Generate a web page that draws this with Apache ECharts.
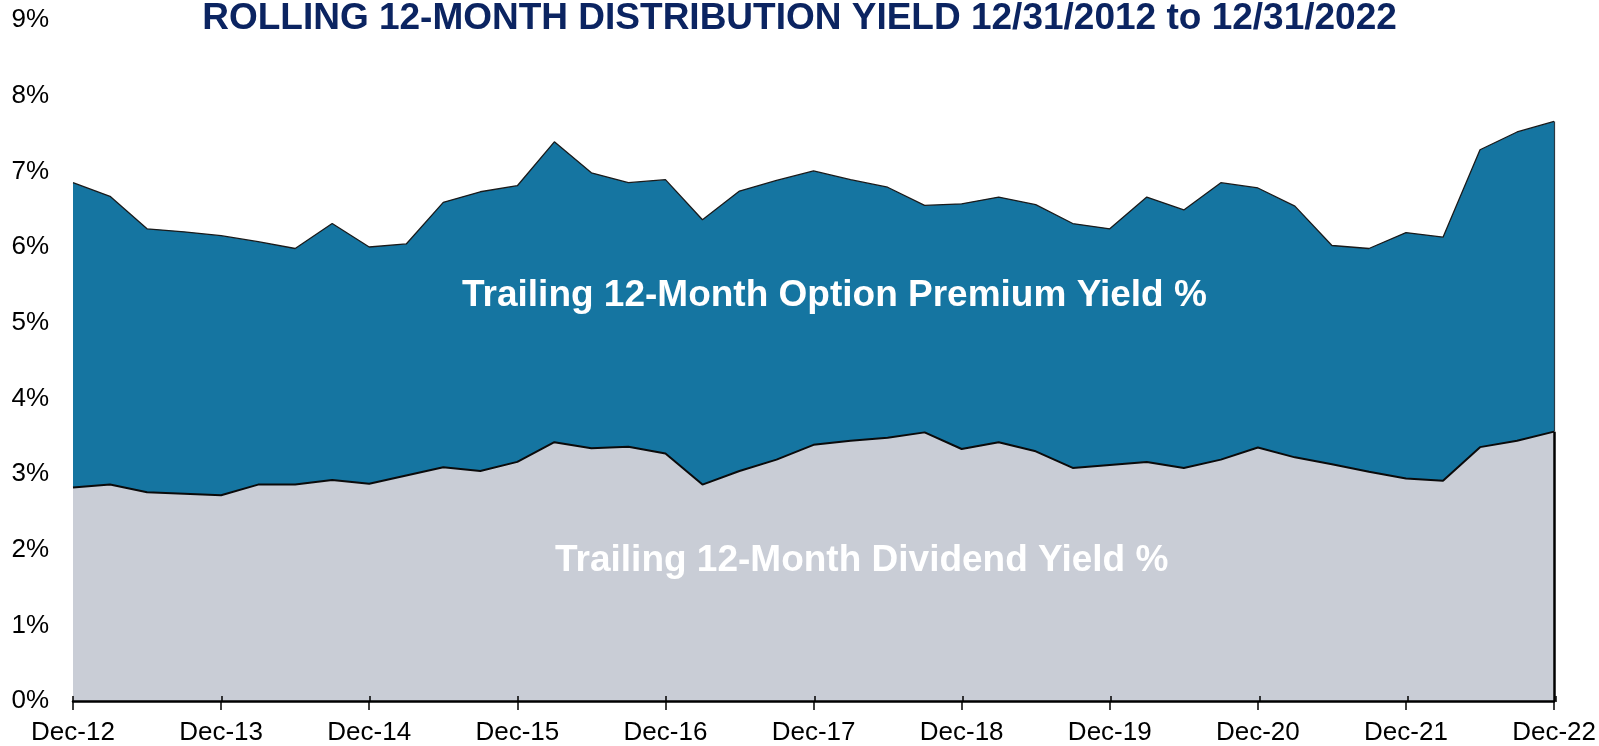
<!DOCTYPE html>
<html>
<head>
<meta charset="utf-8">
<title>Rolling 12-Month Distribution Yield</title>
<script src="https://cdn.jsdelivr.net/npm/echarts@6/dist/echarts.min.js"></script>
<style>
  html, body { margin: 0; padding: 0; background: #ffffff; }
  #chart { width: 1599px; height: 746px; }
</style>
</head>
<body>
<div id="chart"></div>
<script>
// Quarter-end dates, Dec 2012 through Dec 2022
const quarters = [
  'Dec-12', 'Mar-13', 'Jun-13', 'Sep-13',
  'Dec-13', 'Mar-14', 'Jun-14', 'Sep-14',
  'Dec-14', 'Mar-15', 'Jun-15', 'Sep-15',
  'Dec-15', 'Mar-16', 'Jun-16', 'Sep-16',
  'Dec-16', 'Mar-17', 'Jun-17', 'Sep-17',
  'Dec-17', 'Mar-18', 'Jun-18', 'Sep-18',
  'Dec-18', 'Mar-19', 'Jun-19', 'Sep-19',
  'Dec-19', 'Mar-20', 'Jun-20', 'Sep-20',
  'Dec-20', 'Mar-21', 'Jun-21', 'Sep-21',
  'Dec-21', 'Mar-22', 'Jun-22', 'Sep-22',
  'Dec-22'
];

// Trailing 12-month dividend yield (%)
const dividendYield = [
  2.82, 2.86, 2.76, 2.74,
  2.72, 2.86, 2.86, 2.92,
  2.87, 2.98, 3.09, 3.04,
  3.16, 3.42, 3.34, 3.36,
  3.27, 2.86, 3.04, 3.19,
  3.385, 3.44, 3.48, 3.55,
  3.33, 3.42, 3.30, 3.08,
  3.12, 3.16, 3.08, 3.19,
  3.35, 3.22, 3.13, 3.03,
  2.94, 2.91, 3.355, 3.44,
  3.56
];

// Trailing 12-month option premium yield (%), stacked on the dividend yield
const optionPremiumYield = [
  4.03, 3.81, 3.48, 3.46,
  3.43, 3.21, 3.12, 3.39,
  3.13, 3.06, 3.50, 3.69,
  3.65, 3.97, 3.64, 3.49,
  3.62, 3.50, 3.70, 3.69,
  3.62, 3.45, 3.31, 3.00,
  3.24, 3.24, 3.26, 3.23,
  3.12, 3.50, 3.41, 3.66,
  3.43, 3.32, 2.89, 2.95,
  3.25, 3.22, 3.93, 4.08,
  4.10
];

const yTicks = [0, 1, 2, 3, 4, 5, 6, 7, 8, 9];

const FONT = "'Liberation Sans', Arial, 'Helvetica Neue', sans-serif";
const last = quarters.length - 1;
const lastDiv = dividendYield[last];
const lastTotal = dividendYield[last] + optionPremiumYield[last];

const gridBox = { left: 73, right: 43, top: 20, bottom: 44 };

const chart = echarts.init(document.getElementById('chart'), null, { renderer: 'canvas' });

chart.setOption({
  backgroundColor: '#ffffff',
  animation: false,
  title: {
    text: 'ROLLING 12-MONTH DISTRIBUTION YIELD 12/31/2012 to 12/31/2022',
    left: 'center',
    top: -5,
    textStyle: { fontFamily: FONT, fontSize: 37, fontWeight: 'bold', color: '#0b2461' }
  },
  grid: [
    Object.assign({}, gridBox),
    Object.assign({}, gridBox)
  ],
  xAxis: [
    {
      type: 'category',
      gridIndex: 0,
      data: quarters,
      boundaryGap: false,
      z: 10,
      axisLine: { show: true, lineStyle: { color: '#000000', width: 2.5 } },
      axisTick: { show: true, inside: false, length: 9, interval: 3, lineStyle: { color: '#000000', width: 1.5 } },
      axisLabel: { interval: 3, margin: 19, fontFamily: FONT, fontSize: 26, color: '#000000' },
      splitLine: { show: false }
    },
    {
      // tick marks rising above the baseline
      type: 'category',
      gridIndex: 1,
      data: quarters,
      boundaryGap: false,
      z: 10,
      axisLine: { show: false },
      axisTick: { show: true, inside: true, length: 6, interval: 3, lineStyle: { color: '#000000', width: 1.5 } },
      axisLabel: { show: false },
      splitLine: { show: false }
    }
  ],
  yAxis: [
    {
      type: 'value',
      gridIndex: 0,
      min: yTicks[0],
      max: yTicks[yTicks.length - 1],
      interval: 1,
      axisLine: { show: false },
      axisTick: { show: false },
      splitLine: { show: false },
      axisLabel: { margin: 24, fontFamily: FONT, fontSize: 26, color: '#000000', formatter: '{value}%' }
    },
    {
      type: 'value',
      gridIndex: 1,
      min: yTicks[0],
      max: yTicks[yTicks.length - 1],
      interval: 1,
      show: false
    }
  ],
  series: [
    {
      name: 'Trailing 12-Month Dividend Yield %',
      type: 'line',
      xAxisIndex: 0,
      yAxisIndex: 0,
      stack: 'yield',
      data: dividendYield,
      symbol: 'none',
      z: 4,
      lineStyle: { color: '#0a0a0a', width: 2 },
      areaStyle: { color: '#c9cdd6', opacity: 1 },
      markLine: {
        silent: true,
        symbol: 'none',
        label: { show: false },
        data: [
          [
            { coord: [quarters[last], 0], lineStyle: { color: '#000000', width: 2.5, type: 'solid' } },
            { coord: [quarters[last], lastDiv] }
          ],
          [
            { coord: [quarters[last], lastDiv], lineStyle: { color: '#2b3a44', width: 1.2, type: 'solid' } },
            { coord: [quarters[last], lastTotal] }
          ]
        ]
      }
    },
    {
      name: 'Trailing 12-Month Option Premium Yield %',
      type: 'line',
      xAxisIndex: 0,
      yAxisIndex: 0,
      stack: 'yield',
      data: optionPremiumYield,
      symbol: 'none',
      z: 3,
      lineStyle: { color: '#1a1a1a', width: 1.3 },
      areaStyle: { color: '#1575a1', opacity: 1 }
    }
  ],
  graphic: [
    {
      type: 'text',
      z: 100,
      left: 836 - 374,
      top: 277,
      style: {
        text: 'Trailing 12-Month Option Premium Yield %',
        fill: '#ffffff',
        font: 'bold 37px ' + FONT
      }
    },
    {
      type: 'text',
      z: 100,
      left: 862 - 307,
      top: 542,
      style: {
        text: 'Trailing 12-Month Dividend Yield %',
        fill: '#ffffff',
        font: 'bold 37px ' + FONT
      }
    }
  ]
});
</script>
</body>
</html>
